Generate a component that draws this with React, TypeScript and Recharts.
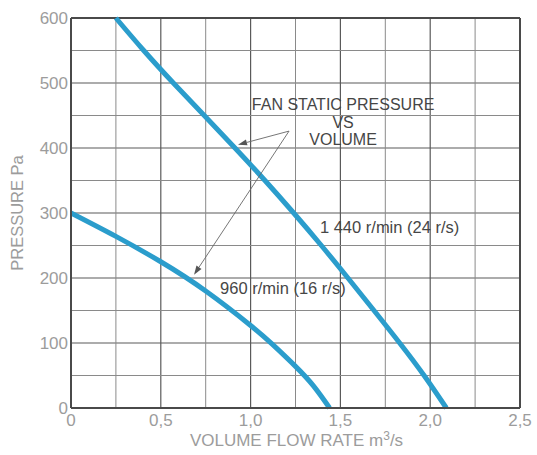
import {
  CartesianGrid,
  Label,
  Line,
  LineChart,
  ReferenceDot,
  ReferenceLine,
  XAxis,
  YAxis,
} from "recharts";

// volume flow (m3/s) vs static pressure (Pa)
const FLOW_1440 = [0.25, 0.405, 0.57, 0.742, 0.913, 1.08, 1.24, 1.394, 1.542, 1.687, 1.83, 1.966, 2.09];
const PRESS_1440 = [600, 550, 500, 450, 400, 350, 300, 250, 200, 150, 100, 50, 0];
const FLOW_960 = [0, 0.25, 0.5, 0.75, 1.0, 1.125, 1.25, 1.35, 1.44];
const PRESS_960 = [300, 264, 225, 180, 127, 97, 64, 34, 0];

const X_TICKS = [0, 0.5, 1.0, 1.5, 2.0, 2.5];
const Y_TICKS = [0, 100, 200, 300, 400, 500, 600];
const X_MINOR = [0.25, 0.75, 1.25, 1.75, 2.25];
const Y_MINOR = [50, 150, 250, 350, 450, 550];

const TITLE_LINES = ["FAN STATIC PRESSURE", "VS", "VOLUME"];
const TITLE_AT = { x: 1.515, y: 467 };
const LABEL_1440 = { text: "1 440 r/min (24 r/s)", x: 1.386, y: 278 };
const LABEL_960 = { text: "960 r/min (16 r/s)", x: 0.83, y: 185 };
const ARROW_FROM = { x: 1.214, y: 426 };
const ARROW_TIPS = [
  { x: 0.93, y: 405 },
  { x: 0.685, y: 205 },
];

const BLUE = "#2b9dcc";
const AXIS_TXT = "#9c9c9c";
const NOTE_TXT = "#464646";
const FONT = "'Liberation Sans', Arial, sans-serif";

const toPoints = (xs: number[], ys: number[]) => xs.map((x, i) => ({ q: x, p: ys[i] }));
const comma = (v: number) => (v === 0 ? "0" : v.toFixed(1).replace(".", ","));

function Arrow(props: any) {
  const { x1, y1, x2, y2 } = props;
  const a = Math.atan2(y2 - y1, x2 - x1);
  const L = 9;
  const W = 3;
  const bx = x2 - L * Math.cos(a);
  const by = y2 - L * Math.sin(a);
  const px = -Math.sin(a) * W;
  const py = Math.cos(a) * W;
  return (
    <g>
      <line x1={x1} y1={y1} x2={bx} y2={by} stroke="#666" strokeWidth={0.9} />
      <polygon points={`${x2},${y2} ${bx + px},${by + py} ${bx - px},${by - py}`} fill="#555" />
    </g>
  );
}

const noteText = (text: string, anchor: "start" | "middle") => (p: any) =>
  (
    <text x={p.cx} y={p.cy} dy="0.35em" textAnchor={anchor} fontSize={16.5} fill={NOTE_TXT} fontFamily={FONT}>
      {text}
    </text>
  );

const titleShape = (p: any) => (
  <text x={p.cx} y={p.cy} textAnchor="middle" fontSize={16} fill={NOTE_TXT} fontFamily={FONT}>
    {TITLE_LINES.map((t, i) => (
      <tspan key={t} x={p.cx} dy={i === 0 ? "0.35em" : 17.5}>
        {t}
      </tspan>
    ))}
  </text>
);

export default function App() {
  const d1440 = toPoints(FLOW_1440, PRESS_1440);
  const d960 = toPoints(FLOW_960, PRESS_960);

  return (
    <div style={{ position: "absolute", left: 0, top: 0, background: "#fff" }}>
      <LineChart width={537} height={455} margin={{ top: 18, right: 17, left: 0, bottom: 0 }}>
        {X_MINOR.map((v) => (
          <ReferenceLine key={"x" + v} x={v} stroke="#8a8a8a" strokeWidth={1} />
        ))}
        {Y_MINOR.map((v) => (
          <ReferenceLine key={"y" + v} y={v} stroke="#8a8a8a" strokeWidth={1} />
        ))}
        <CartesianGrid stroke="#5a5a5a" strokeWidth={1.2} />
        <XAxis
          type="number"
          dataKey="q"
          domain={[0, 2.5]}
          ticks={X_TICKS}
          tickFormatter={comma}
          height={47}
          tickSize={0}
          tickMargin={6}
          axisLine={{ stroke: "#4a4a4a", strokeWidth: 2 }}
          tick={{ fill: AXIS_TXT, fontSize: 17, fontFamily: FONT }}
        >
          <Label
            content={(props: any) => {
              const vb = props.viewBox;
              return (
                <text
                  x={vb.x + vb.width / 2 + 1}
                  y={440}
                  dy="0.35em"
                  textAnchor="middle"
                  fontSize={17}
                  fill={AXIS_TXT}
                  fontFamily={FONT}
                >
                  VOLUME FLOW RATE m
                  <tspan dy={-6} fontSize={12}>
                    3
                  </tspan>
                  <tspan dy={6}>/s</tspan>
                </text>
              );
            }}
          />
        </XAxis>
        <YAxis
          type="number"
          domain={[0, 600]}
          ticks={Y_TICKS}
          width={71}
          tickSize={0}
          tickMargin={3}
          axisLine={{ stroke: "#4a4a4a", strokeWidth: 2 }}
          tick={{ fill: AXIS_TXT, fontSize: 17, fontFamily: FONT }}
        >
          <Label
            content={(props: any) => {
              const vb = props.viewBox;
              const cy = vb.y + vb.height / 2;
              return (
                <text
                  x={17}
                  y={cy}
                  dy="0.35em"
                  textAnchor="middle"
                  transform={`rotate(-90, 17, ${cy})`}
                  fontSize={16.5}
                  fill={AXIS_TXT}
                  fontFamily={FONT}
                >
                  PRESSURE Pa
                </text>
              );
            }}
          />
        </YAxis>
        <ReferenceLine x={2.5} stroke="#4a4a4a" strokeWidth={2} />
        <ReferenceLine y={600} stroke="#4a4a4a" strokeWidth={2} />
        <Line
          data={d1440}
          dataKey="p"
          type="natural"
          stroke={BLUE}
          strokeWidth={5}
          dot={false}
          isAnimationActive={false}
        />
        <Line
          data={d960}
          dataKey="p"
          type="natural"
          stroke={BLUE}
          strokeWidth={5}
          dot={false}
          isAnimationActive={false}
        />
        {ARROW_TIPS.map((t, i) => (
          <ReferenceLine
            key={"a" + i}
            segment={[ARROW_FROM, t]}
            shape={(p: any) => <Arrow {...p} />}
          />
        ))}
        <ReferenceDot x={TITLE_AT.x} y={TITLE_AT.y} shape={titleShape} />
        <ReferenceDot x={LABEL_1440.x} y={LABEL_1440.y} shape={noteText(LABEL_1440.text, "start")} />
        <ReferenceDot x={LABEL_960.x} y={LABEL_960.y} shape={noteText(LABEL_960.text, "start")} />
      </LineChart>
    </div>
  );
}
